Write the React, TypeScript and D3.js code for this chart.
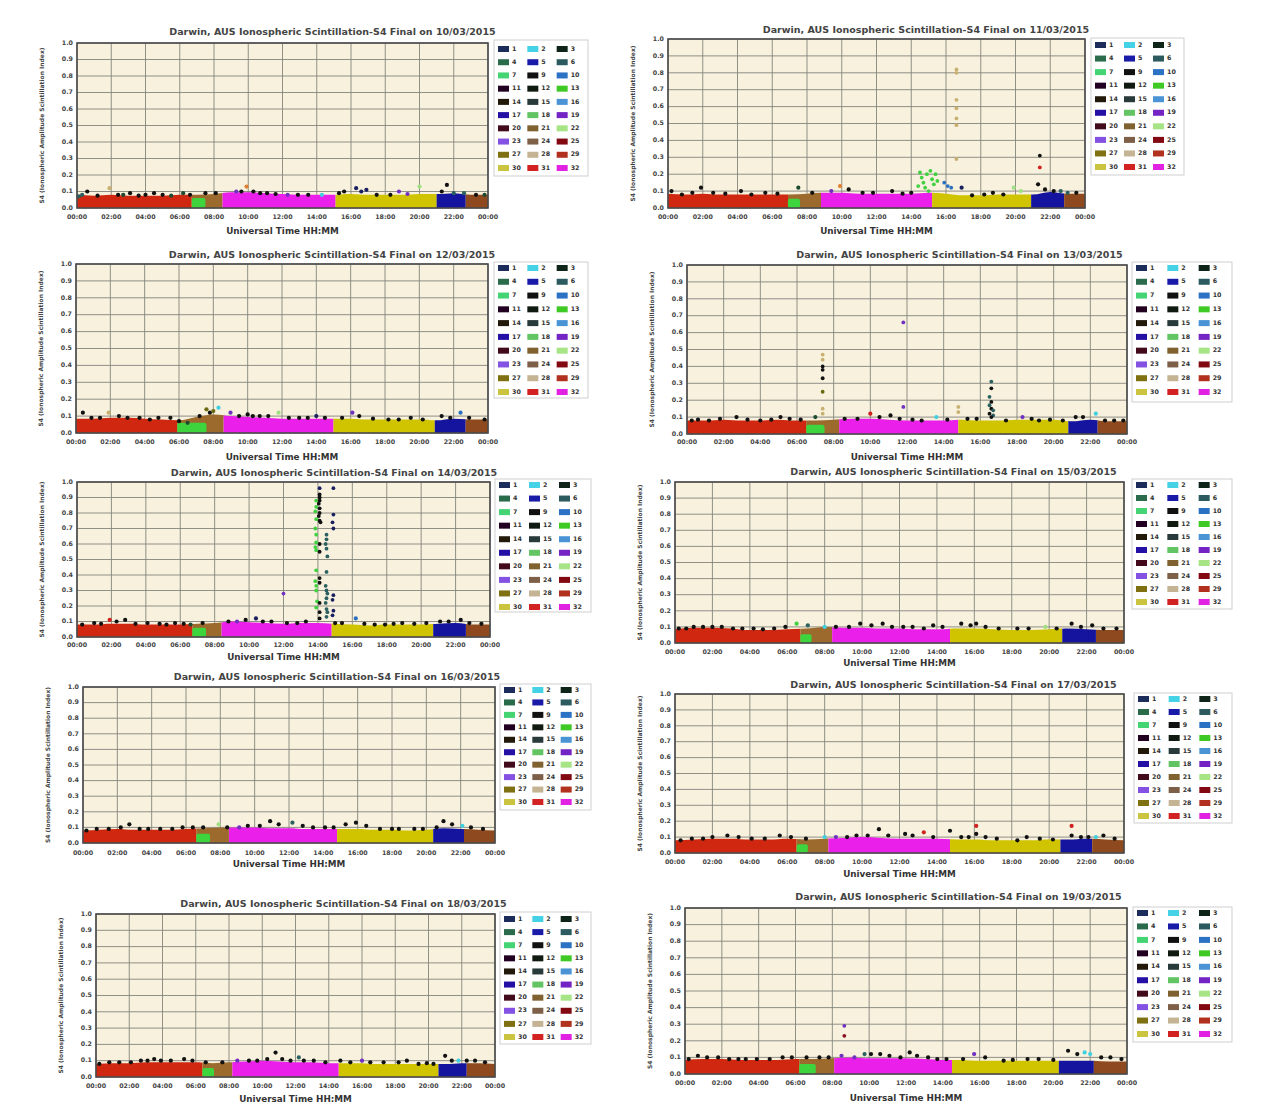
import React from "react";
import * as d3 from "d3";

// ---------- DATA ----------
const DATES = ["10/03/2015", "11/03/2015", "12/03/2015", "13/03/2015", "14/03/2015",
  "15/03/2015", "16/03/2015", "17/03/2015", "18/03/2015", "19/03/2015"];
const X_TICKS = ["00:00", "02:00", "04:00", "06:00", "08:00", "10:00", "12:00", "14:00", "16:00", "18:00", "20:00", "22:00", "00:00"];
const Y_TICKS = [0, 0.1, 0.2, 0.3, 0.4, 0.5, 0.6, 0.7, 0.8, 0.9, 1.0];
const PRN_ROWS = [[1, 2, 3], [4, 5, 6], [7, 9, 10], [11, 12, 13], [14, 15, 16], [17, 18, 19], [20, 21, 22], [23, 24, 25], [27, 28, 29], [30, 31, 32]];
const PRN_COLORS = [["#1c2d5c", "#45d2e6", "#0f2418"], ["#2a6b4c", "#1a1aa8", "#2b5b5f"], ["#44d473", "#111111", "#2c72c4"],
  ["#220022", "#111a11", "#3ec925"], ["#22190a", "#283a3a", "#4a94d6"], ["#2410a4", "#62c462", "#7424c4"],
  ["#420a1a", "#7f6230", "#a6e486"], ["#8452e2", "#7e6048", "#820812"], ["#7f7012", "#c4b494", "#b2301e"], ["#cbc440", "#d22222", "#e222e2"]];

// band colours: red, green, brown, magenta, yellow, blue, brown
const BAND_COLORS = ["#d02810", "#3dd43d", "#9c6a2c", "#ea20ea", "#d0c400", "#14149e", "#8e4a1e"];
// band boundaries (hours): red end, green end, brown end, magenta end, yellow end, blue end
const BOUNDS = [
  [6.7, 7.5, 8.5, 15.1, 21.0, 22.7],
  [6.9, 7.6, 8.8, 15.2, 20.9, 22.8],
  [5.9, 7.6, 8.6, 15.0, 20.9, 22.7],
  [6.5, 7.5, 8.3, 14.8, 20.8, 22.4],
  [6.7, 7.5, 8.4, 14.8, 20.7, 22.6],
  [6.7, 7.3, 8.4, 14.7, 20.7, 22.5],
  [6.6, 7.4, 8.5, 14.8, 20.4, 22.2],
  [6.5, 7.1, 8.2, 14.7, 20.6, 22.3],
  [6.4, 7.1, 8.2, 14.6, 20.6, 22.3],
  [6.2, 7.1, 8.1, 14.5, 20.3, 22.2],
];
const GREEN_TOP = [0.06, 0.055, 0.06, 0.055, 0.06, 0.055, 0.06, 0.055, 0.055, 0.06];
// hourly top of the dense band (00..24 h)
const ENV_1003 = [0.08, 0.075, 0.08, 0.075, 0.075, 0.075, 0.08, 0.08, 0.085, 0.095, 0.095, 0.09, 0.085, 0.08, 0.08, 0.08, 0.085, 0.08, 0.08, 0.08, 0.085, 0.085, 0.09, 0.08, 0.08];
const ENV_1103 = [0.085, 0.08, 0.085, 0.08, 0.08, 0.08, 0.08, 0.08, 0.085, 0.09, 0.09, 0.085, 0.085, 0.085, 0.085, 0.09, 0.085, 0.075, 0.075, 0.08, 0.08, 0.08, 0.095, 0.085, 0.085];
const ENV_1203 = [0.085, 0.085, 0.09, 0.09, 0.085, 0.08, 0.075, 0.095, 0.11, 0.1, 0.095, 0.09, 0.085, 0.085, 0.085, 0.085, 0.085, 0.08, 0.08, 0.08, 0.08, 0.075, 0.085, 0.08, 0.08];
const ENV_1303 = [0.08, 0.08, 0.085, 0.08, 0.08, 0.085, 0.08, 0.08, 0.085, 0.09, 0.09, 0.085, 0.08, 0.08, 0.08, 0.085, 0.08, 0.08, 0.085, 0.085, 0.085, 0.075, 0.085, 0.075, 0.075];
const ENV_1403 = [0.08, 0.08, 0.085, 0.085, 0.08, 0.08, 0.08, 0.085, 0.09, 0.1, 0.095, 0.09, 0.085, 0.09, 0.09, 0.085, 0.08, 0.075, 0.08, 0.08, 0.08, 0.085, 0.09, 0.08, 0.08];
const ENV_1503 = [0.085, 0.095, 0.095, 0.09, 0.08, 0.08, 0.085, 0.09, 0.1, 0.095, 0.095, 0.09, 0.09, 0.085, 0.085, 0.09, 0.09, 0.085, 0.08, 0.08, 0.085, 0.09, 0.085, 0.08, 0.08];
const ENV_1603 = [0.08, 0.085, 0.09, 0.085, 0.085, 0.085, 0.09, 0.095, 0.1, 0.1, 0.1, 0.095, 0.095, 0.09, 0.09, 0.09, 0.09, 0.085, 0.085, 0.08, 0.085, 0.095, 0.09, 0.085, 0.08];
const ENV_1703 = [0.08, 0.085, 0.09, 0.09, 0.085, 0.085, 0.09, 0.085, 0.09, 0.095, 0.1, 0.095, 0.09, 0.09, 0.09, 0.085, 0.085, 0.08, 0.08, 0.08, 0.085, 0.085, 0.09, 0.085, 0.08];
const ENV_1803 = [0.08, 0.085, 0.085, 0.09, 0.09, 0.09, 0.09, 0.085, 0.09, 0.095, 0.1, 0.095, 0.09, 0.09, 0.085, 0.085, 0.085, 0.08, 0.08, 0.08, 0.08, 0.08, 0.085, 0.085, 0.08];
const ENV_1903 = [0.085, 0.09, 0.09, 0.085, 0.085, 0.085, 0.09, 0.09, 0.095, 0.1, 0.095, 0.095, 0.095, 0.09, 0.085, 0.085, 0.08, 0.08, 0.08, 0.08, 0.08, 0.08, 0.08, 0.075, 0.075];

const DOT_COLORS: Record<string, string> = {
  k: "#111111", dg: "#1e4a30", nv: "#1a2060", tl: "#2a6060", cy: "#40d0e0", pu: "#7030c0",
  rd: "#d02020", tn: "#c8b070", gr: "#40d040", lg: "#a0e080", or: "#e08030", bl: "#2a70c0", dr: "#8b1020", ol: "#6b6a10",
};
// dark points along the top of the band [hour, S4, colour]
const FRINGE_1003 = [[0.1, 0.07, "tl"], [0.3, 0.08, "tl"], [0.6, 0.1, "k"], [1.2, 0.075, "k"], [1.9, 0.12, "tn"], [2.4, 0.08, "k"], [2.7, 0.08, "dg"], [3.1, 0.09, "k"], [3.6, 0.075, "k"], [4.0, 0.08, "k"], [4.5, 0.09, "k"], [5.0, 0.08, "k"], [5.5, 0.075, "dg"], [6.2, 0.09, "dg"], [6.6, 0.08, "k"], [7.5, 0.09, "k"], [8.1, 0.09, "k"], [9.3, 0.1, "pu"], [9.6, 0.1, "k"], [9.9, 0.13, "or"], [10.3, 0.1, "k"], [10.7, 0.09, "k"], [11.1, 0.09, "k"], [11.6, 0.085, "k"], [12.3, 0.08, "pu"], [12.9, 0.08, "k"], [13.5, 0.08, "k"], [14.3, 0.08, "cy"], [15.3, 0.09, "k"], [15.6, 0.1, "k"], [16.3, 0.12, "nv"], [16.6, 0.1, "nv"], [16.9, 0.11, "nv"], [17.5, 0.08, "k"], [18.3, 0.08, "k"], [18.8, 0.1, "pu"], [19.3, 0.085, "pu"], [20.0, 0.13, "lg"], [21.3, 0.1, "k"], [21.6, 0.14, "k"], [22.0, 0.09, "tl"], [22.6, 0.09, "tl"], [23.3, 0.08, "k"], [23.8, 0.08, "dg"]];
const FRINGE_1103 = [[0.2, 0.1, "k"], [0.8, 0.08, "k"], [1.4, 0.09, "k"], [1.9, 0.12, "k"], [2.6, 0.09, "k"], [3.3, 0.085, "k"], [4.2, 0.1, "k"], [4.8, 0.08, "k"], [5.6, 0.09, "k"], [6.3, 0.085, "k"], [7.5, 0.12, "dg"], [8.3, 0.09, "k"], [9.4, 0.1, "pu"], [9.9, 0.13, "or"], [10.4, 0.11, "k"], [11.2, 0.09, "k"], [11.8, 0.09, "k"], [12.9, 0.1, "k"], [13.5, 0.085, "k"], [14.0, 0.09, "k"], [16.9, 0.12, "nv"], [17.5, 0.075, "k"], [18.2, 0.08, "k"], [18.7, 0.09, "k"], [19.3, 0.08, "k"], [19.9, 0.12, "lg"], [20.3, 0.1, "lg"], [21.3, 0.14, "k"], [21.7, 0.11, "k"], [22.2, 0.1, "k"], [22.6, 0.1, "tl"], [23.0, 0.09, "tl"], [23.5, 0.09, "k"]];
const FRINGE_1203 = [[0.4, 0.12, "k"], [0.9, 0.09, "k"], [1.4, 0.09, "k"], [1.9, 0.12, "tn"], [2.5, 0.1, "k"], [3.0, 0.09, "k"], [3.7, 0.09, "k"], [4.3, 0.08, "k"], [4.8, 0.09, "k"], [5.5, 0.09, "k"], [6.0, 0.07, "k"], [6.5, 0.06, "dg"], [7.2, 0.1, "k"], [7.6, 0.14, "ol"], [7.8, 0.12, "k"], [8.0, 0.13, "ol"], [8.3, 0.15, "cy"], [9.0, 0.12, "pu"], [9.5, 0.1, "k"], [10.0, 0.11, "k"], [10.3, 0.1, "k"], [10.7, 0.1, "k"], [11.2, 0.1, "k"], [11.8, 0.12, "lg"], [12.4, 0.09, "k"], [13.0, 0.09, "k"], [13.5, 0.09, "k"], [14.0, 0.1, "nv"], [14.5, 0.09, "k"], [15.5, 0.09, "k"], [16.1, 0.12, "pu"], [16.5, 0.1, "k"], [17.3, 0.085, "k"], [18.2, 0.08, "k"], [18.8, 0.08, "k"], [19.5, 0.09, "k"], [20.2, 0.08, "k"], [21.3, 0.1, "k"], [21.8, 0.09, "k"], [22.4, 0.12, "bl"], [22.9, 0.09, "k"], [23.8, 0.08, "k"]];
const FRINGE_1303 = [[0.26, 0.08, "k"], [0.6, 0.085, "k"], [1.2, 0.08, "k"], [1.8, 0.09, "k"], [2.7, 0.1, "k"], [3.3, 0.085, "k"], [4.0, 0.08, "k"], [4.6, 0.085, "k"], [5.1, 0.1, "k"], [5.6, 0.09, "k"], [6.2, 0.085, "k"], [7.0, 0.1, "dg"], [8.6, 0.09, "k"], [9.3, 0.09, "k"], [10.0, 0.12, "rd"], [10.5, 0.1, "k"], [11.1, 0.11, "k"], [11.6, 0.09, "k"], [12.3, 0.085, "k"], [12.8, 0.08, "k"], [13.6, 0.1, "cy"], [14.2, 0.085, "k"], [15.3, 0.09, "k"], [15.8, 0.09, "k"], [17.4, 0.08, "k"], [18.3, 0.1, "pu"], [18.8, 0.09, "k"], [19.2, 0.08, "k"], [19.8, 0.085, "k"], [20.5, 0.08, "k"], [21.2, 0.1, "k"], [21.6, 0.1, "k"], [22.3, 0.12, "cy"], [22.8, 0.08, "k"], [23.3, 0.08, "k"], [23.8, 0.08, "k"]];
const FRINGE_1403 = [[0.3, 0.08, "k"], [1.0, 0.09, "k"], [1.4, 0.085, "k"], [1.9, 0.11, "rd"], [2.3, 0.1, "k"], [2.8, 0.11, "k"], [3.4, 0.085, "k"], [4.1, 0.09, "k"], [4.8, 0.085, "k"], [5.2, 0.08, "k"], [5.7, 0.09, "k"], [6.2, 0.085, "k"], [6.6, 0.08, "dg"], [7.3, 0.09, "k"], [8.8, 0.1, "k"], [9.3, 0.1, "pu"], [9.8, 0.11, "k"], [10.4, 0.12, "nv"], [10.8, 0.1, "k"], [11.3, 0.1, "k"], [12.2, 0.09, "k"], [12.8, 0.09, "k"], [13.3, 0.1, "k"], [15.0, 0.09, "k"], [15.4, 0.09, "k"], [16.2, 0.12, "bl"], [16.7, 0.085, "k"], [17.3, 0.08, "k"], [17.9, 0.08, "k"], [18.4, 0.085, "k"], [18.9, 0.09, "k"], [19.6, 0.085, "k"], [20.3, 0.09, "k"], [21.1, 0.1, "k"], [21.6, 0.1, "k"], [22.3, 0.11, "k"], [22.8, 0.09, "k"], [23.5, 0.085, "k"]];
const FRINGE_1503 = [[0.2, 0.09, "k"], [0.6, 0.09, "k"], [1.0, 0.1, "k"], [1.5, 0.1, "k"], [2.0, 0.1, "k"], [2.5, 0.1, "k"], [3.1, 0.09, "k"], [3.6, 0.09, "k"], [4.2, 0.09, "k"], [4.7, 0.085, "k"], [5.3, 0.09, "k"], [5.9, 0.1, "k"], [6.5, 0.12, "gr"], [7.1, 0.11, "tl"], [8.0, 0.1, "cy"], [8.6, 0.1, "k"], [9.3, 0.1, "k"], [9.9, 0.12, "k"], [10.5, 0.11, "k"], [11.1, 0.12, "k"], [11.6, 0.1, "k"], [12.2, 0.1, "k"], [12.7, 0.1, "k"], [13.3, 0.09, "k"], [13.8, 0.11, "k"], [14.3, 0.1, "k"], [15.3, 0.12, "k"], [15.8, 0.11, "k"], [16.1, 0.12, "k"], [16.6, 0.1, "k"], [17.3, 0.09, "k"], [18.3, 0.09, "k"], [18.9, 0.09, "k"], [19.8, 0.1, "lg"], [20.4, 0.09, "k"], [21.2, 0.12, "k"], [21.7, 0.1, "k"], [22.3, 0.11, "k"], [22.9, 0.09, "k"], [23.6, 0.09, "k"]];
const FRINGE_1603 = [[0.2, 0.08, "k"], [0.8, 0.09, "k"], [1.5, 0.09, "k"], [2.2, 0.1, "k"], [2.7, 0.12, "k"], [3.3, 0.09, "k"], [3.8, 0.09, "k"], [4.5, 0.09, "k"], [5.2, 0.09, "k"], [5.8, 0.1, "k"], [6.4, 0.1, "k"], [7.0, 0.1, "k"], [7.9, 0.12, "lg"], [8.4, 0.1, "k"], [9.1, 0.1, "pu"], [9.6, 0.11, "k"], [10.3, 0.11, "k"], [10.9, 0.14, "k"], [11.4, 0.12, "k"], [12.2, 0.13, "tl"], [12.8, 0.11, "k"], [13.4, 0.1, "k"], [14.1, 0.1, "k"], [14.6, 0.1, "k"], [15.3, 0.12, "k"], [15.9, 0.13, "k"], [16.5, 0.11, "k"], [17.3, 0.09, "k"], [18.0, 0.09, "k"], [18.4, 0.09, "k"], [19.3, 0.09, "k"], [19.8, 0.09, "k"], [20.6, 0.1, "k"], [21.0, 0.14, "k"], [21.5, 0.12, "k"], [22.1, 0.11, "cy"], [22.6, 0.1, "k"], [23.3, 0.09, "k"]];
const FRINGE_1703 = [[0.3, 0.08, "k"], [0.9, 0.09, "k"], [1.5, 0.09, "k"], [2.0, 0.1, "k"], [2.8, 0.11, "k"], [3.4, 0.1, "k"], [4.1, 0.09, "k"], [4.8, 0.09, "k"], [5.6, 0.11, "k"], [6.2, 0.1, "k"], [7.0, 0.09, "k"], [8.0, 0.1, "cy"], [8.6, 0.1, "pu"], [9.2, 0.1, "k"], [9.7, 0.11, "k"], [10.3, 0.11, "k"], [10.9, 0.15, "k"], [11.4, 0.11, "k"], [12.3, 0.12, "k"], [12.7, 0.11, "k"], [13.3, 0.13, "rd"], [13.8, 0.1, "k"], [14.7, 0.14, "k"], [15.3, 0.1, "k"], [15.7, 0.1, "k"], [16.1, 0.17, "rd"], [16.1, 0.12, "k"], [16.6, 0.1, "k"], [17.2, 0.09, "k"], [18.3, 0.08, "k"], [18.8, 0.1, "k"], [19.5, 0.09, "k"], [20.2, 0.085, "k"], [21.2, 0.17, "rd"], [21.2, 0.11, "k"], [21.7, 0.1, "k"], [22.1, 0.1, "k"], [22.5, 0.1, "cy"], [22.9, 0.11, "k"], [23.5, 0.09, "k"]];
const FRINGE_1803 = [[0.2, 0.08, "k"], [0.8, 0.09, "k"], [1.4, 0.09, "k"], [2.1, 0.09, "k"], [2.7, 0.1, "k"], [3.1, 0.1, "k"], [3.5, 0.11, "k"], [3.9, 0.1, "k"], [4.5, 0.1, "k"], [5.3, 0.11, "k"], [5.8, 0.1, "k"], [6.6, 0.09, "k"], [7.6, 0.09, "k"], [8.5, 0.1, "pu"], [9.2, 0.1, "k"], [9.7, 0.1, "k"], [10.3, 0.11, "k"], [10.8, 0.15, "k"], [11.2, 0.11, "k"], [11.7, 0.1, "k"], [12.2, 0.12, "tl"], [12.5, 0.1, "k"], [13.1, 0.1, "k"], [13.8, 0.09, "k"], [14.7, 0.1, "k"], [15.3, 0.09, "k"], [16.0, 0.1, "pu"], [16.5, 0.09, "k"], [17.3, 0.09, "k"], [18.2, 0.09, "k"], [18.7, 0.1, "k"], [19.4, 0.08, "k"], [19.9, 0.085, "k"], [20.3, 0.08, "k"], [21.0, 0.13, "k"], [21.4, 0.1, "k"], [21.8, 0.1, "cy"], [22.3, 0.1, "k"], [22.8, 0.1, "k"], [23.4, 0.09, "k"]];
const FRINGE_1903 = [[0.2, 0.09, "k"], [0.7, 0.11, "k"], [1.2, 0.1, "k"], [1.8, 0.1, "k"], [2.4, 0.09, "k"], [2.9, 0.09, "k"], [3.3, 0.09, "k"], [3.9, 0.09, "k"], [4.6, 0.09, "k"], [5.3, 0.1, "k"], [5.8, 0.1, "k"], [6.6, 0.1, "k"], [7.3, 0.1, "k"], [7.8, 0.1, "k"], [8.5, 0.11, "pu"], [9.2, 0.1, "pu"], [9.75, 0.12, "tl"], [10.1, 0.12, "k"], [10.6, 0.12, "k"], [11.1, 0.11, "k"], [11.7, 0.1, "k"], [12.2, 0.13, "k"], [12.6, 0.11, "k"], [13.2, 0.1, "k"], [13.7, 0.09, "k"], [14.2, 0.09, "k"], [15.1, 0.09, "k"], [15.7, 0.12, "pu"], [16.3, 0.1, "k"], [17.3, 0.08, "k"], [17.8, 0.085, "k"], [18.6, 0.09, "k"], [19.2, 0.09, "k"], [20.0, 0.085, "k"], [20.8, 0.14, "k"], [21.3, 0.12, "k"], [21.7, 0.13, "cy"], [22.0, 0.12, "cy"], [22.6, 0.1, "k"], [23.1, 0.1, "k"], [23.7, 0.09, "k"]];

// isolated high-S4 points [hour, S4, colour]
const SPIKES_1003: (number | string)[][] = [];
const SPIKES_1103 = [[14.4, 0.13, "gr"], [14.5, 0.21, "gr"], [14.6, 0.18, "gr"], [14.7, 0.15, "gr"], [14.8, 0.12, "gr"], [14.9, 0.2, "gr"], [15.0, 0.1, "gr"], [15.1, 0.22, "gr"], [15.2, 0.17, "gr"], [15.3, 0.14, "gr"], [15.4, 0.2, "gr"], [15.5, 0.16, "gr"],
  [15.9, 0.15, "bl"], [16.1, 0.13, "bl"], [16.3, 0.12, "bl"],
  [16.6, 0.82, "tn"], [16.6, 0.8, "tn"], [16.6, 0.64, "tn"], [16.6, 0.59, "tn"], [16.6, 0.53, "tn"], [16.6, 0.49, "tn"], [16.6, 0.29, "tn"],
  [21.4, 0.31, "k"], [21.4, 0.24, "rd"]];
const SPIKES_1203: (number | string)[][] = [];
const SPIKES_1303 = [[7.4, 0.47, "tn"], [7.4, 0.44, "tn"], [7.4, 0.4, "k"], [7.4, 0.38, "k"], [7.4, 0.33, "k"], [7.4, 0.25, "ol"], [7.4, 0.15, "tn"], [7.4, 0.12, "tn"],
  [11.8, 0.66, "pu"], [11.8, 0.16, "pu"], [14.8, 0.16, "tn"], [14.8, 0.13, "tn"],
  [16.6, 0.31, "tl"], [16.6, 0.27, "k"], [16.5, 0.22, "tl"], [16.6, 0.19, "k"], [16.5, 0.17, "tl"], [16.6, 0.15, "k"], [16.7, 0.14, "tl"], [16.5, 0.12, "k"], [16.7, 0.11, "tl"], [16.6, 0.1, "k"]];
const SPIKES_1403 = [[12.0, 0.28, "pu"],
  [13.9, 0.88, "gr"], [13.9, 0.84, "gr"], [13.85, 0.81, "gr"], [13.9, 0.76, "gr"], [13.85, 0.7, "gr"], [13.9, 0.66, "gr"], [13.9, 0.61, "gr"], [13.85, 0.58, "gr"], [13.9, 0.56, "gr"], [13.9, 0.43, "gr"], [13.85, 0.36, "gr"], [13.9, 0.33, "gr"], [13.9, 0.3, "gr"], [13.95, 0.23, "gr"], [13.9, 0.19, "gr"],
  [14.1, 0.96, "nv"], [14.1, 0.92, "k"], [14.1, 0.9, "k"], [14.1, 0.88, "k"], [14.05, 0.86, "k"], [14.1, 0.83, "k"], [14.1, 0.8, "k"], [14.05, 0.78, "k"], [14.1, 0.75, "k"], [14.15, 0.74, "k"], [14.1, 0.6, "k"], [14.1, 0.55, "k"], [14.1, 0.38, "k"], [14.1, 0.35, "k"], [14.1, 0.22, "k"], [14.1, 0.16, "k"], [14.1, 0.12, "k"],
  [14.5, 0.66, "tl"], [14.5, 0.63, "tl"], [14.45, 0.6, "tl"], [14.5, 0.57, "tl"], [14.55, 0.52, "tl"], [14.5, 0.42, "tl"], [14.45, 0.33, "tl"], [14.5, 0.3, "tl"], [14.55, 0.28, "tl"], [14.5, 0.25, "tl"], [14.45, 0.22, "tl"], [14.5, 0.18, "tl"], [14.55, 0.16, "tl"], [14.5, 0.13, "tl"],
  [14.9, 0.96, "nv"], [14.9, 0.79, "nv"], [14.85, 0.74, "nv"], [14.9, 0.7, "nv"], [14.9, 0.27, "nv"], [14.85, 0.24, "nv"], [14.9, 0.17, "nv"], [14.85, 0.14, "nv"]];
const SPIKES_1503: (number | string)[][] = [];
const SPIKES_1603: (number | string)[][] = [];
const SPIKES_1703: (number | string)[][] = [];
const SPIKES_1803: (number | string)[][] = [];
const SPIKES_1903 = [[8.65, 0.29, "pu"], [8.65, 0.23, "dr"]];

const ENVS = [ENV_1003, ENV_1103, ENV_1203, ENV_1303, ENV_1403, ENV_1503, ENV_1603, ENV_1703, ENV_1803, ENV_1903];
const FRINGES = [FRINGE_1003, FRINGE_1103, FRINGE_1203, FRINGE_1303, FRINGE_1403, FRINGE_1503, FRINGE_1603, FRINGE_1703, FRINGE_1803, FRINGE_1903];
const SPIKES = [SPIKES_1003, SPIKES_1103, SPIKES_1203, SPIKES_1303, SPIKES_1403, SPIKES_1503, SPIKES_1603, SPIKES_1703, SPIKES_1803, SPIKES_1903];

// ---------- LAYOUT ----------
type Lay = { pl: number; pr: number; pt: number; pb: number; title: number; xl: number; xt: number; lx: number; lw: number; lt: number; lb: number; r0: number; r9: number };
const LAYOUTS: Lay[] = [
  { pl: 77, pr: 488, pt: 43, pb: 208, title: 32, xl: 217, xt: 231, lx: 494, lw: 94, lt: 40, lb: 176, r0: 49, r9: 168 },
  { pl: 668, pr: 1085, pt: 39, pb: 208, title: 30, xl: 217, xt: 231, lx: 1091, lw: 93, lt: 38, lb: 175, r0: 45, r9: 167 },
  { pl: 76, pr: 488, pt: 264, pb: 433, title: 255, xl: 442, xt: 457, lx: 494, lw: 94, lt: 262, lb: 398, r0: 268, r9: 392 },
  { pl: 687, pr: 1127, pt: 265, pb: 434, title: 255, xl: 442, xt: 457, lx: 1132, lw: 100, lt: 262, lb: 402, r0: 268, r9: 392 },
  { pl: 77, pr: 490, pt: 482, pb: 637, title: 473, xl: 645, xt: 657, lx: 495, lw: 96, lt: 479, lb: 612, r0: 485, r9: 607 },
  { pl: 675, pr: 1124, pt: 482, pb: 643, title: 472, xl: 652, xt: 663, lx: 1132, lw: 100, lt: 479, lb: 609, r0: 485, r9: 602 },
  { pl: 83, pr: 495, pt: 687, pb: 843, title: 677, xl: 853, xt: 864, lx: 500, lw: 91, lt: 684, lb: 810, r0: 690, r9: 802 },
  { pl: 675, pr: 1124, pt: 694, pb: 853, title: 685, xl: 862, xt: 874, lx: 1134, lw: 98, lt: 693, lb: 823, r0: 699, r9: 816 },
  { pl: 96, pr: 495, pt: 914, pb: 1077, title: 904, xl: 1086, xt: 1099, lx: 500, lw: 91, lt: 912, lb: 1044, r0: 919, r9: 1037 },
  { pl: 685, pr: 1127, pt: 908, pb: 1074, title: 897, xl: 1083, xt: 1098, lx: 1133, lw: 99, lt: 907, lb: 1042, r0: 913, r9: 1034 },
];

const FONT = "'DejaVu Sans', Verdana, sans-serif";

function Panel({ idx }: { idx: number }) {
  const L = LAYOUTS[idx];
  const env = ENVS[idx];
  const b = BOUNDS[idx];
  const x = d3.scaleLinear().domain([0, 24]).range([L.pl, L.pr]);
  const y = d3.scaleLinear().domain([0, 1]).range([L.pb, L.pt]);
  const hours = d3.range(0, 25);
  const area = d3.area<number>().x((_d, i) => x(hours[i])).y0(y(0)).y1((d) => y(d)).curve(d3.curveMonotoneX);
  const areaPath = area(env) || "";
  const segs: [number, number, number][] = [
    [0, b[0], 0], [b[0], b[2], 2], [b[2], b[3], 3], [b[3], b[4], 4], [b[4], b[5], 5], [b[5], 24, 6],
  ];
  const rowStep = (L.r9 - L.r0) / 9;
  const colStep = (L.lw - 6) / 3;
  return (
    <g>
      <text x={(L.pl + L.lx + L.lw) / 2} y={L.title} textAnchor="middle" dominantBaseline="middle" fontFamily={FONT} fontSize={9.5} fontWeight="bold" fill="#444">
        {`Darwin, AUS Ionospheric Scintillation-S4 Final on ${DATES[idx]}`}
      </text>
      <rect x={L.pl} y={L.pt} width={L.pr - L.pl} height={L.pb - L.pt} fill="#f7f1de" />
      {Y_TICKS.map((t) => (
        <line key={"gy" + t} x1={L.pl} x2={L.pr} y1={y(t)} y2={y(t)} stroke="#85857c" strokeWidth={0.9} />
      ))}
      {X_TICKS.map((_t, i) => (
        <line key={"gx" + i} x1={x(i * 2)} x2={x(i * 2)} y1={L.pt} y2={L.pb} stroke="#85857c" strokeWidth={0.9} />
      ))}
      <defs>
        {segs.map((s, i) => (
          <clipPath key={i} id={`c${idx}_${i}`}>
            <rect x={x(s[0])} y={L.pt} width={x(s[1]) - x(s[0])} height={L.pb - L.pt} />
          </clipPath>
        ))}
      </defs>
      {segs.map((s, i) => (
        <path key={"a" + i} d={areaPath} fill={BAND_COLORS[s[2]]} clipPath={`url(#c${idx}_${i})`} />
      ))}
      <rect x={x(b[0])} y={y(GREEN_TOP[idx])} width={x(b[1]) - x(b[0])} height={y(0) - y(GREEN_TOP[idx])} fill={BAND_COLORS[1]} rx={2} />
      {FRINGES[idx].map((p, i) => (
        <circle key={"f" + i} cx={x(p[0] as number)} cy={y(p[1] as number)} r={2.1} fill={DOT_COLORS[p[2] as string]} />
      ))}
      {SPIKES[idx].map((p, i) => (
        <circle key={"s" + i} cx={x(p[0] as number)} cy={y(p[1] as number)} r={1.9} fill={DOT_COLORS[p[2] as string]} />
      ))}
      <rect x={L.pl} y={L.pt} width={L.pr - L.pl} height={L.pb - L.pt} fill="none" stroke="#4a4a4a" strokeWidth={1.6} />
      {Y_TICKS.map((t) => (
        <text key={"yl" + t} x={L.pl - 4} y={y(t)} textAnchor="end" dominantBaseline="middle" fontFamily={FONT} fontSize={6.3} fontWeight="bold" fill="#444">
          {t.toFixed(1)}
        </text>
      ))}
      {X_TICKS.map((t, i) => (
        <text key={"xl" + i} x={x(i * 2)} y={L.xl} textAnchor="middle" dominantBaseline="middle" fontFamily={FONT} fontSize={6.3} fontWeight="bold" fill="#444">
          {t}
        </text>
      ))}
      <text x={(L.pl + L.pr) / 2} y={L.xt} textAnchor="middle" dominantBaseline="middle" fontFamily={FONT} fontSize={8.8} fontWeight="bold" fill="#333">
        Universal Time HH:MM
      </text>
      <text transform={`translate(${L.pl - 35},${(L.pt + L.pb) / 2}) rotate(-90)`} textAnchor="middle" dominantBaseline="middle" fontFamily={FONT} fontSize={6} fontWeight="bold" fill="#444">
        S4 (Ionospheric Amplitude Scintillation Index)
      </text>
      <rect x={L.lx} y={L.lt} width={L.lw} height={L.lb - L.lt} fill="#fff" stroke="#cfcfcf" strokeWidth={1} />
      {PRN_ROWS.map((row, ri) =>
        row.map((prn, ci) => (
          <g key={`l${ri}_${ci}`}>
            <rect x={L.lx + 4 + ci * colStep} y={L.r0 + ri * rowStep - 3} width={11} height={6} fill={PRN_COLORS[ri][ci]} />
            <text x={L.lx + 18 + ci * colStep} y={L.r0 + ri * rowStep} dominantBaseline="middle" fontFamily={FONT} fontSize={6.3} fontWeight="bold" fill="#333">
              {prn}
            </text>
          </g>
        ))
      )}
    </g>
  );
}

export default function App() {
  return (
    <svg width={1263} height={1116} style={{ position: "absolute", left: 0, top: 0, background: "#fff" }}>
      <rect x={0} y={0} width={1263} height={1116} fill="#fff" />
      {DATES.map((_d, i) => (
        <Panel key={i} idx={i} />
      ))}
    </svg>
  );
}
